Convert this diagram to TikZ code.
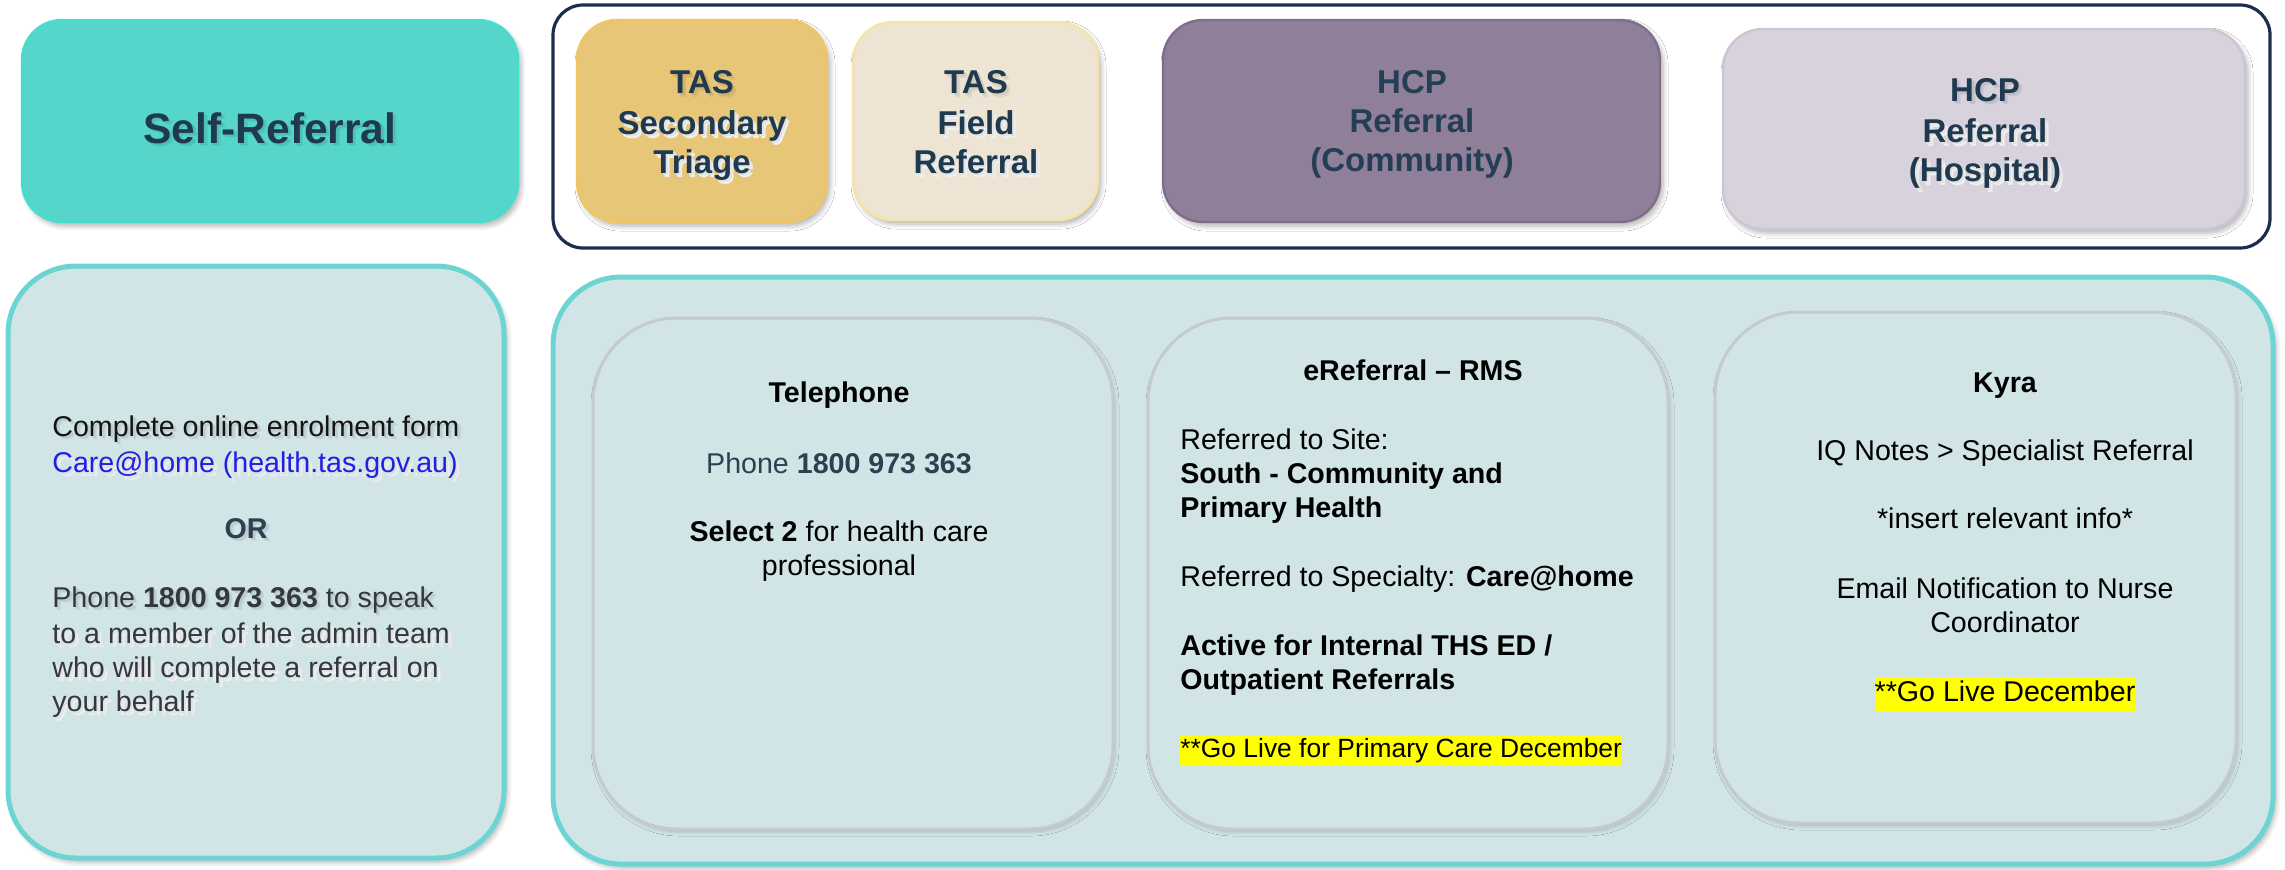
\documentclass[tikz,border=0pt]{standalone}
\usepackage{fontspec}
\setmainfont{Liberation Sans}
\usetikzlibrary{shadows.blur}

\definecolor{selffill}{HTML}{56D6CA}
\definecolor{selfline}{HTML}{45DDD0}
\definecolor{framenavy}{HTML}{1C2D4F}
\definecolor{goldfill}{HTML}{E8C677}
\definecolor{goldline}{HTML}{F3C560}
\definecolor{creamfill}{HTML}{EDE4D3}
\definecolor{creamline}{HTML}{F6E3A8}
\definecolor{plumfill}{HTML}{907F99}
\definecolor{plumline}{HTML}{806D8D}
\definecolor{lilacfill}{HTML}{D8D2DC}
\definecolor{lilacline}{HTML}{CCC5D2}
\definecolor{panelfill}{HTML}{D1E5E7}
\definecolor{panelline}{HTML}{6CD4D2}
\definecolor{innerline}{HTML}{C4C9D3}
\definecolor{headink}{HTML}{1F3A4F}
\definecolor{plumink}{HTML}{243F55}
\definecolor{bodyink}{HTML}{141414}
\definecolor{greyink}{HTML}{333840}
\definecolor{slateink}{HTML}{2F3F4F}
\definecolor{linkblue}{HTML}{1F1FE6}
\definecolor{hiyellow}{HTML}{FFFF00}
\colorlet{shbase}{white}

% text sizes
\newcommand\headfont{\fontsize{16.5pt}{19.5pt}\selectfont\bfseries}
\newcommand\bigheadfont{\fontsize{21.25pt}{25pt}\selectfont\bfseries}
\newcommand\bodyfont{\fontsize{14.3pt}{16.9pt}\selectfont}

% soft text shadow for one line of text; shbase is the colour under the text
\newcommand\sh[1]{\leavevmode
  \rlap{\kern1.8pt\raisebox{-1.8pt}{\color{shbase!94!black}#1}}%
  \rlap{\kern1.1pt\raisebox{-1.1pt}{\color{shbase!89!black}#1}}#1}
% yellow highlight
\newcommand\hilite[1]{{\setlength{\fboxsep}{0pt}\colorbox{hiyellow}{\strut #1}}}

\tikzset{
  softshadow/.style={blur shadow={shadow xshift=1.5pt, shadow yshift=-2pt,
      shadow blur radius=2.5pt, shadow blur steps=6, shadow opacity=30}},
  lightshadow/.style={blur shadow={shadow xshift=1pt, shadow yshift=-1.5pt,
      shadow blur radius=2pt, shadow blur steps=5, shadow opacity=18}},
  tag/.style={rectangle, rounded corners=20pt, line width=1.2pt, inner sep=0pt, softshadow},
  panel/.style={rectangle, rounded corners=34pt, draw=panelline, fill=panelfill,
      line width=2.5pt, inner sep=0pt, softshadow},
  innerbox/.style={rectangle, rounded corners=42pt, draw=innerline, fill=panelfill,
      line width=1.5pt, inner sep=0pt, lightshadow},
  head/.style={font=\headfont, text=headink, align=center, inner sep=0pt, anchor=north},
  body/.style={font=\bodyfont, text=bodyink, inner sep=0pt},
}

\begin{document}
\begin{tikzpicture}[x=0.5pt,y=-0.5pt]
\useasboundingbox (0,0) rectangle (2285,869);

% ---------- top row: referral sources ----------
\node[tag, draw=selfline, fill=selffill, minimum width=248pt, minimum height=101pt]
  (selfbox) at (270,121) {};
\node[font=\bigheadfont, text=headink, inner sep=0pt, anchor=base] (selftxt) at (270,143)
  {\colorlet{shbase}{selffill}\sh{Self-Referral}};

\node[rectangle, rounded corners=15pt, draw=framenavy, fill=white, line width=1.6pt,
  minimum width=858.5pt, minimum height=121.5pt, inner sep=0pt] (frame) at (1411.5,126.5) {};

\node[tag, draw=goldline, fill=goldfill, minimum width=125pt, minimum height=101pt]
  (tas1) at (702,121) {};
\node[head] (tas1txt) at (702,65.7)
  {\colorlet{shbase}{goldfill}\sh{\strut TAS}\\ \sh{Secondary}\\ \sh{Triage}};

\node[tag, draw=creamline, fill=creamfill, minimum width=122.5pt, minimum height=99pt]
  (tas2) at (975.5,121) {};
\node[head] (tas2txt) at (976,65.7)
  {\colorlet{shbase}{creamfill}\sh{\strut TAS}\\ \sh{Field}\\ \sh{Referral}};

\node[tag, draw=plumline, fill=plumfill, minimum width=248.5pt, minimum height=101pt]
  (hcp1) at (1411.5,121) {};
\node[head, text=plumink] (hcp1txt) at (1412,65.7)
  {\strut HCP\\ Referral\\ (Community)};

\node[tag, draw=lilacline, fill=lilacfill, minimum width=261pt, minimum height=100pt]
  (hcp2) at (1984,129) {};
\node[head] (hcp2txt) at (1985,73.5)
  {\colorlet{shbase}{lilacfill}\sh{\strut HCP}\\ \sh{Referral}\\ \sh{(Hospital)}};

% ---------- bottom row: how to refer ----------
\node[panel, minimum width=248pt, minimum height=296pt] (leftbox) at (256,562) {};
\node[body, anchor=north west, align=left] (online) at (52,412.3)
  {\colorlet{shbase}{panelfill}\sh{\strut Complete online enrolment form}\\
   {\color{linkblue}\sh{Care@home (health.tas.gov.au)}}};
\node[body, anchor=base, font=\bodyfont\bfseries, text=slateink] (ortxt) at (246,538)
  {\colorlet{shbase}{panelfill}\sh{OR}};
\node[body, anchor=north west, align=left, text=greyink] (phoneself) at (52,583.3)
  {\colorlet{shbase}{panelfill}\sh{\strut Phone \textbf{1800 973 363} to speak}\\
   \sh{to a member of the admin team}\\
   \sh{who will complete a referral on}\\
   \sh{your behalf}};

\node[panel, minimum width=860pt, minimum height=293.5pt] (bigbox) at (1413,570.5) {};

% telephone
\node[innerbox, minimum width=260pt, minimum height=255.5pt] (tel) at (853,573.5) {};
\node[body, anchor=base, font=\bodyfont\bfseries, text=black] (teltitle) at (839,402) {Telephone};
\node[body, anchor=base, text=slateink] (telnum) at (839,473) {Phone \textbf{1800 973 363}};
\node[body, anchor=north, align=center, text=black] (telsel) at (839,517.8)
  {\strut\textbf{Select 2} for health care\\ professional};

% eReferral
\node[innerbox, minimum width=260pt, minimum height=255.5pt] (erf) at (1408,573.5) {};
\node[body, anchor=base, font=\bodyfont\bfseries, text=black] (erftitle) at (1413,380)
  {eReferral -- RMS};
\node[body, anchor=north west, align=left, text=black] (erfsite) at (1180,425.8)
  {\strut Referred to Site:\\ \textbf{South - Community and}\\ \textbf{Primary Health}};
\node[body, anchor=base west, text=black] (erfspec) at (1180,586)
  {Referred to Specialty: \textbf{Care@home}};
\node[body, anchor=north west, align=left, text=black] (erfactive) at (1180,631.3)
  {\strut\textbf{Active for Internal THS ED /}\\ \textbf{Outpatient Referrals}};
\node[body, anchor=base west, text=black, font=\fontsize{13.2pt}{15.6pt}\selectfont]
  (erflive) at (1180,757) {\hilite{**Go Live for Primary Care December}};

% Kyra
\node[innerbox, minimum width=260.5pt, minimum height=255.5pt] (kyra) at (1975.5,567.5) {};
\node[body, anchor=base, font=\bodyfont\bfseries, text=black] (kyratitle) at (2005,392) {Kyra};
\node[body, anchor=base, text=black] (kyraiq) at (2005,460) {IQ Notes > Specialist Referral};
\node[body, anchor=base, text=black] (kyrainfo) at (2005,528) {*insert relevant info*};
\node[body, anchor=north, align=center, text=black] (kyramail) at (2005,574.3)
  {\strut Email Notification to Nurse\\ Coordinator};
\node[body, anchor=base, text=black] (kyralive) at (2005,701) {\hilite{**Go Live December}};

\end{tikzpicture}
\end{document}
